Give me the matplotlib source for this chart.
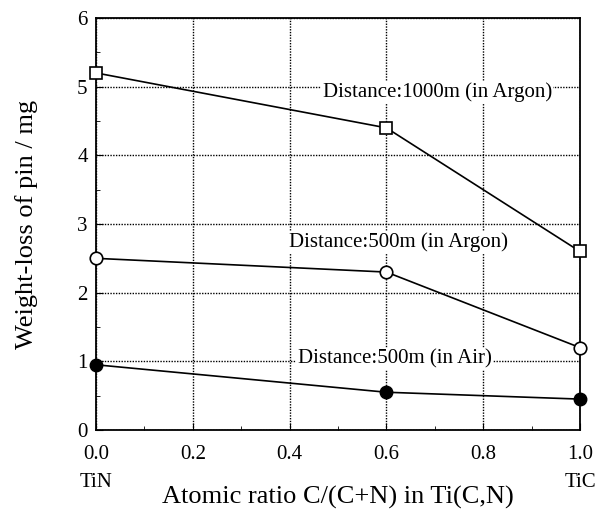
import matplotlib
matplotlib.use("Agg")
import matplotlib.pyplot as plt
from matplotlib.ticker import MultipleLocator

plt.rcParams.update({
    "font.family": ["Liberation Serif", "DejaVu Serif"],
    "font.size": 15,
})

# data
ratio = [0.0, 0.6, 1.0]
argon_1000 = [5.2, 4.4, 2.6]
argon_500 = [2.5, 2.3, 1.2]
air_500 = [0.95, 0.55, 0.45]

labels = ["Distance:1000m (in Argon)", "Distance:500m (in Argon)", "Distance:500m (in Air)"]
label_pos = [(0.705, 4.92), (0.625, 2.74), (0.617, 1.03)]

fig = plt.figure(figsize=(5.97, 5.11), dpi=100)
ax = fig.add_axes([0.1608, 0.1585, 0.8107, 0.8063])

ax.plot(ratio, argon_1000, color="black", lw=1.2, marker="s", ms=9,
        mfc="white", mec="black", mew=1.2, clip_on=False, zorder=5)
ax.plot(ratio, argon_500, color="black", lw=1.2, marker="o", ms=9,
        mfc="white", mec="black", mew=1.2, clip_on=False, zorder=5)
ax.plot(ratio, air_500, color="black", lw=1.2, marker="o", ms=9,
        mfc="black", mec="black", clip_on=False, zorder=5)

for txt, (x, y) in zip(labels, label_pos):
    ax.text(x, y, txt, ha="center", va="center", fontsize=15, zorder=4,
            bbox=dict(facecolor="white", edgecolor="none", pad=1.0))

ax.set_xlim(0, 1.0)
ax.set_ylim(0, 6)
ax.xaxis.set_major_locator(MultipleLocator(0.2))
ax.xaxis.set_minor_locator(MultipleLocator(0.1))
ax.yaxis.set_major_locator(MultipleLocator(1))
ax.yaxis.set_minor_locator(MultipleLocator(0.5))
ax.set_xticklabels([f"{v:.1f}" for v in ax.get_xticks()])
ax.grid(True, which="major", color="black", linestyle=(0, (1, 1)), lw=1.0)
ax.tick_params(which="both", direction="in", top=False, right=False, labelsize=15)
ax.tick_params(axis="x", which="major", length=5, pad=11)
ax.tick_params(axis="y", which="major", length=5, pad=6)
ax.tick_params(which="minor", length=3)
for s in ax.spines.values():
    s.set_linewidth(1.3)

ax.text(0.0, -0.105, "TiN", transform=ax.transAxes, ha="center", va="top", fontsize=15)
ax.text(1.0, -0.105, "TiC", transform=ax.transAxes, ha="center", va="top", fontsize=15)

ax.set_xlabel("Atomic ratio C/(C+N) in Ti(C,N)", fontsize=19)
ax.xaxis.set_label_coords(0.5, -0.136)
ax.set_ylabel("Weight-loss of pin / mg", fontsize=19)
ax.yaxis.set_label_coords(-0.12, 0.5)

fig.savefig("out.png", dpi=100)
